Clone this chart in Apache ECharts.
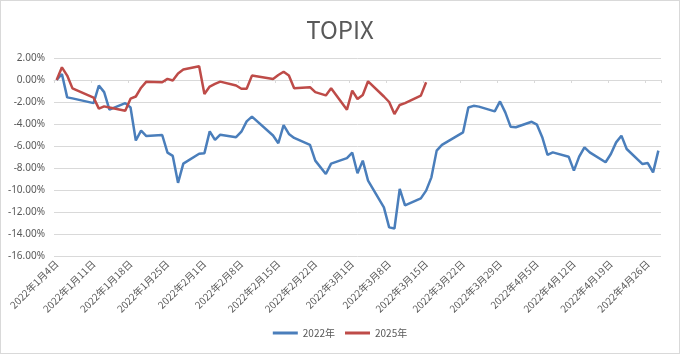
<!DOCTYPE html>
<html>
<head>
<meta charset="utf-8">
<script src="https://cdn.jsdelivr.net/npm/echarts@6/dist/echarts.min.js"></script>
<style>
    html, body { margin: 0; padding: 0; background: #fff; }
    #chart { width: 680px; height: 354px; box-sizing: border-box; border: 1px solid #d9d9d9; }
</style>
</head>
<body>
<div id="chart"></div>
<script>
// 2022年の営業日（2025年の系列も同じ行位置に並べる）
var tradeDays = [
    '2022-01-04', '2022-01-05', '2022-01-06', '2022-01-07', '2022-01-11', '2022-01-12', '2022-01-13', '2022-01-14',
    '2022-01-17', '2022-01-18', '2022-01-19', '2022-01-20', '2022-01-21', '2022-01-24', '2022-01-25', '2022-01-26',
    '2022-01-27', '2022-01-28', '2022-01-31',
    '2022-02-01', '2022-02-02', '2022-02-03', '2022-02-04', '2022-02-07', '2022-02-08', '2022-02-09', '2022-02-10',
    '2022-02-14', '2022-02-15', '2022-02-16', '2022-02-17', '2022-02-18', '2022-02-21', '2022-02-22', '2022-02-24',
    '2022-02-25', '2022-02-28',
    '2022-03-01', '2022-03-02', '2022-03-03', '2022-03-04', '2022-03-07', '2022-03-08', '2022-03-09', '2022-03-10',
    '2022-03-11', '2022-03-14', '2022-03-15', '2022-03-16', '2022-03-17', '2022-03-18', '2022-03-22', '2022-03-23',
    '2022-03-24', '2022-03-25', '2022-03-28', '2022-03-29', '2022-03-30', '2022-03-31',
    '2022-04-01', '2022-04-04', '2022-04-05', '2022-04-06', '2022-04-07', '2022-04-08', '2022-04-11', '2022-04-12',
    '2022-04-13', '2022-04-14', '2022-04-15', '2022-04-18', '2022-04-19', '2022-04-20', '2022-04-21', '2022-04-22',
    '2022-04-25', '2022-04-26', '2022-04-27', '2022-04-28'
]

// 騰落率 (%)
var values2022 = [
    0, 0.55, -1.58, -1.67, -2.1, -0.5, -1.1, -2.7,
    -2.1, -2.5, -5.5, -4.6, -5.1, -5.0, -6.6, -6.9,
    -9.35, -7.6, -6.7,
    -6.65, -4.67, -5.45, -4.97, -5.2, -4.7, -3.76, -3.33,
    -5.05, -5.75, -4.1, -4.9, -5.27, -5.9, -7.33, -8.55,
    -7.6, -7.1,
    -6.6, -8.48, -7.33, -9.15, -11.58, -13.4, -13.5, -9.9,
    -11.4, -10.76, -10.06, -8.85, -6.42, -5.9, -4.76, -2.5,
    -2.35, -2.42, -2.85, -1.95, -2.94, -4.24,
    -4.3, -3.8, -4.06, -5.2, -6.8, -6.58, -6.97, -8.24,
    -6.97, -6.12, -6.58, -7.48, -6.73, -5.67, -5.06, -6.27,
    -7.64, -7.55, -8.4, -6.42
]

var values2025 = [
    0, 1.15, 0.4, -0.76, -1.6, -2.6, -2.4, -2.5,
    -2.8, -1.7, -1.5, -0.7, -0.15, -0.2, 0.1, -0.05,
    0.6, 0.95, 1.25, -1.27, -0.6, -0.36, -0.15, -0.5,
    -0.8, -0.8, 0.4, 0.1, 0.45, 0.75, 0.4, -0.75,
    -0.65, -1.1, -1.4, -0.75, -2.7, -0.97, -1.73, -1.36,
    -0.12, -1.5, -2.0, -3.1, -2.27, -2.1, -1.42, -0.2
]

var seriesNames = ['2022年', '2025年']

// 日付軸：1月4日〜4月28日の暦日を並べる
function label(d) {
    return d.getFullYear() + '年' + (d.getMonth() + 1) + '月' + d.getDate() + '日'
}
var days = []
var dayIndex = {}
var start = new Date(2022, 0, 4)
var end = new Date(2022, 3, 28)
for (var d = new Date(start); d <= end; d.setDate(d.getDate() + 1)) {
    var key = d.getFullYear() + '-' + String(d.getMonth() + 1).padStart(2, '0') + '-' + String(d.getDate()).padStart(2, '0')
    dayIndex[key] = days.length
    days.push(label(d))
}

function spread(vals) {
    var out = days.map(function () { return null })
    for (var i = 0; i < vals.length; i++) {
        out[dayIndex[tradeDays[i]]] = vals[i]
    }
    return out
}

var data2022 = spread(values2022)
var data2025 = spread(values2025)

var myChart = echarts.init(document.getElementById('chart'))
var textColor = '#595959'
var gridColor = '#d9d9d9'

var option = {
    animation: false,
    title: {
        text: 'TOPIX',
        left: 'center',
        top: 12,
        textStyle: {
            color: textColor,
            fontSize: 24,
            fontWeight: 'normal',
            fontFamily: 'Noto Sans CJK JP'
        }
    },
    legend: {
        data: seriesNames,
        bottom: 10,
        left: 'center',
        icon: 'rect',
        itemWidth: 25,
        itemHeight: 3,
        itemGap: 10,
        textStyle: {
            color: textColor,
            fontSize: 10,
            fontFamily: 'Noto Sans CJK JP'
        }
    },
    grid: {
        left: 53,
        right: 18,
        top: 57,
        bottom: 97
    },
    xAxis: [{
        type: 'category',
        data: days,
        boundaryGap: true,
        position: 'bottom',
        axisLine: { show: false, onZero: false },
        axisTick: { show: false },
        axisLabel: {
            interval: 6,
            rotate: 45,
            margin: 6,
            color: textColor,
            fontSize: 10,
            fontFamily: 'Noto Sans CJK JP'
        },
        splitLine: { show: false }
    }, {
        type: 'category',
        data: days,
        boundaryGap: true,
        position: 'bottom',
        axisLine: { show: true, onZero: true, lineStyle: { color: gridColor } },
        axisTick: { show: true, interval: 6, length: 3, lineStyle: { color: gridColor } },
        axisLabel: { show: false },
        splitLine: { show: false }
    }],
    yAxis: {
        type: 'value',
        min: -16,
        max: 2,
        interval: 2,
        axisLine: { show: false },
        axisTick: { show: false },
        axisLabel: {
            margin: 9,
            color: textColor,
            fontSize: 10,
            fontFamily: 'Noto Sans',
            formatter: function (v) { return v.toFixed(2) + '%' }
        },
        splitLine: { lineStyle: { color: gridColor } }
    },
    series: [{
        name: seriesNames[0],
        type: 'line',
        data: data2022,
        connectNulls: true,
        showSymbol: false,
        color: '#4A7EBB',
        lineStyle: { width: 2.5, color: '#4A7EBB' }
    }, {
        name: seriesNames[1],
        type: 'line',
        data: data2025,
        connectNulls: true,
        showSymbol: false,
        color: '#BE4B48',
        lineStyle: { width: 2.5, color: '#BE4B48' }
    }]
}

myChart.setOption(option)
</script>
</body>
</html>
